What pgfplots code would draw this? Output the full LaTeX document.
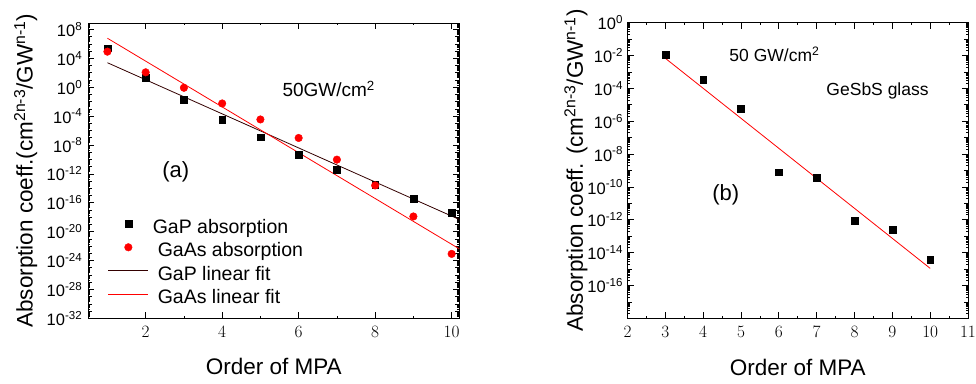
\documentclass[border=0pt]{standalone}
\usepackage{fontspec}
\setmainfont{Liberation Sans}
\usepackage{pgfplots}
\pgfplotsset{compat=1.18}

% sub-decade and decade tick lists for the two log axes
\def\leftsub{2e-32}
\foreach \ex in {-32,...,8}{\foreach \mn in {2,...,9}{\xdef\leftsub{\leftsub,\mn e\ex}}}
\def\leftdec{1e-31}
\foreach \ex in {-30,...,8}{\xdef\leftdec{\leftdec,1e\ex}}
\def\rightsub{2e-18}
\foreach \ex in {-18,...,-1}{\foreach \mn in {2,...,9}{\xdef\rightsub{\rightsub,\mn e\ex}}}

\pgfplotsset{
  mpaaxis/.style={
    scale only axis,
    axis line style={line width=1pt},
    every tick/.style={black, line width=0.7pt},
    major tick length=6pt,
    minor tick length=2pt,
    tick label style={font=\fontsize{16.5}{18}\selectfont},
    yticklabel={\pgfmathtruncatemacro\pw{round(\tick/ln(10))}10\textsuperscript{\pw}},
    xticklabel style={yshift=-4.5pt},
    label style={font=\fontsize{22.5}{26}\selectfont},
    xlabel={Order of MPA},
    xlabel style={at={(axis description cs:0.5,-0.192)}, anchor=base},
    extra y tick style={major tick length=4pt},
    extra y tick labels={},
    minor x tick num=1,
    clip=false,
  },
  markleg/.style={legend image code/.code={\draw[##1] plot coordinates {(20pt,5pt)};}},
  lineleg/.style={legend image code/.code={\draw[##1] (0pt,5pt) -- (40pt,5pt);}},
}

\begin{document}
\begin{tikzpicture}
\path[use as bounding box] (0pt,0pt) rectangle (976pt,383pt);

\edef\optsA{minor ytick={\leftsub}, extra y ticks={\leftdec}}
\expandafter\pgfplotsset\expandafter{\expandafter/pgfplots/leftticks/.style\expandafter=\expandafter{\optsA}}
\edef\optsB{minor ytick={\rightsub}}
\expandafter\pgfplotsset\expandafter{\expandafter/pgfplots/rightticks/.style\expandafter=\expandafter{\optsB}}

% (a) GaP and GaAs
\begin{semilogyaxis}[mpaaxis, leftticks,
  at={(88.3pt,64.7pt)}, anchor=south west,
  width=371pt, height=295pt,
  xmin=0.5, xmax=10.2, ymin=1e-32, ymax=7e8,
  xtick={2,4,6,8,10},
  ytick={1e-32,1e-28,1e-24,1e-20,1e-16,1e-12,1e-8,1e-4,1,1e4,1e8},
  yticklabel style={xshift=-2.5pt},
  ylabel={Absorption coeff.(cm\textsuperscript{2n-3}/GW\textsuperscript{n-1})},
  ylabel style={at={(axis description cs:-0.150,0.5)}, anchor=base},
  legend cell align=left,
  legend style={draw=none, fill=none, inner sep=0pt, outer sep=0pt,
    at={(axis description cs:0.053,0.336)}, anchor=north west,
    font=\fontsize{19.5}{22}\selectfont,
    nodes={inner sep=0pt, text height=14pt, text depth=5pt},
    row sep=4.6pt, column sep=9pt},
]
\addplot[only marks, mark=square*, mark size=3.4pt, black, markleg] coordinates {
  (1,2.45e5) (2,22.9) (3,2.04e-2) (4,3.39e-5) (5,1.17e-7)
  (6,5.1e-10) (7,3.8e-12) (8,3.47e-14) (9,3.6e-16) (10,4.1e-18)};
\addlegendentry{\hspace{-5pt}GaP absorption}
\addplot[only marks, mark=*, mark size=3.8pt, red, markleg] coordinates {
  (1,8.3e4) (2,115) (3,0.83) (4,5.6e-3) (5,3.4e-5)
  (6,9.3e-8) (7,9.3e-11) (8,2.5e-14) (9,1.26e-18) (10,8.3e-24)};
\addlegendentry{GaAs absorption}
\addplot[no marks, line width=0.8pt, black!80!red, lineleg]
  coordinates {(1,2.45e3) (10.2,4.8e-19)};
\addlegendentry{GaP linear fit}
\addplot[no marks, line width=0.8pt, red, lineleg]
  coordinates {(1,6.0e6) (10.2,4.1e-23)};
\addlegendentry{GaAs linear fit}
\node[anchor=base west, font=\fontsize{19}{22}\selectfont]
  at (axis description cs:0.514,0.751) {50GW/cm\textsuperscript{2}};
\node[anchor=base west, font=\fontsize{22}{26}\selectfont]
  at (axis description cs:0.190,0.478) {(a)};
\end{semilogyaxis}

% (b) GeSbS glass
\begin{semilogyaxis}[mpaaxis, rightticks,
  at={(627.5pt,64.7pt)}, anchor=south west,
  width=340.5pt, height=295.6pt,
  xmin=2, xmax=11, ymin=1e-18, ymax=1,
  xtick={2,3,...,11},
  ytick={1e-16,1e-14,1e-12,1e-10,1e-8,1e-6,1e-4,1e-2,1},
  extra y ticks={1e-17,1e-15,1e-13,1e-11,1e-9,1e-7,1e-5,1e-3,1e-1},
  yticklabel style={xshift=-1pt},
  ylabel={Absorption coeff. (cm\textsuperscript{2n-3}/GW\textsuperscript{n-1})},
  ylabel style={at={(axis description cs:-0.131,0.5)}, anchor=base},
]
\addplot[only marks, mark=square*, mark size=3.4pt, black] coordinates {
  (3,1.07e-2) (4,3.2e-4) (5,5.5e-6) (6,7.8e-10)
  (7,3.6e-10) (8,8.7e-13) (9,2.6e-13) (10,3.9e-15)};
\addplot[no marks, line width=0.8pt, red] coordinates {(3,6.8e-3) (10,1.1e-15)};
\node[anchor=base west, font=\fontsize{17.5}{20}\selectfont]
  at (axis description cs:0.289,0.868) {50 GW/cm\textsuperscript{2}};
\node[anchor=base west, font=\fontsize{17.5}{20}\selectfont]
  at (axis description cs:0.574,0.755) {GeSbS glass};
\node[anchor=base west, font=\fontsize{22}{26}\selectfont]
  at (axis description cs:0.239,0.398) {(b)};
\end{semilogyaxis}
\end{tikzpicture}
\end{document}
